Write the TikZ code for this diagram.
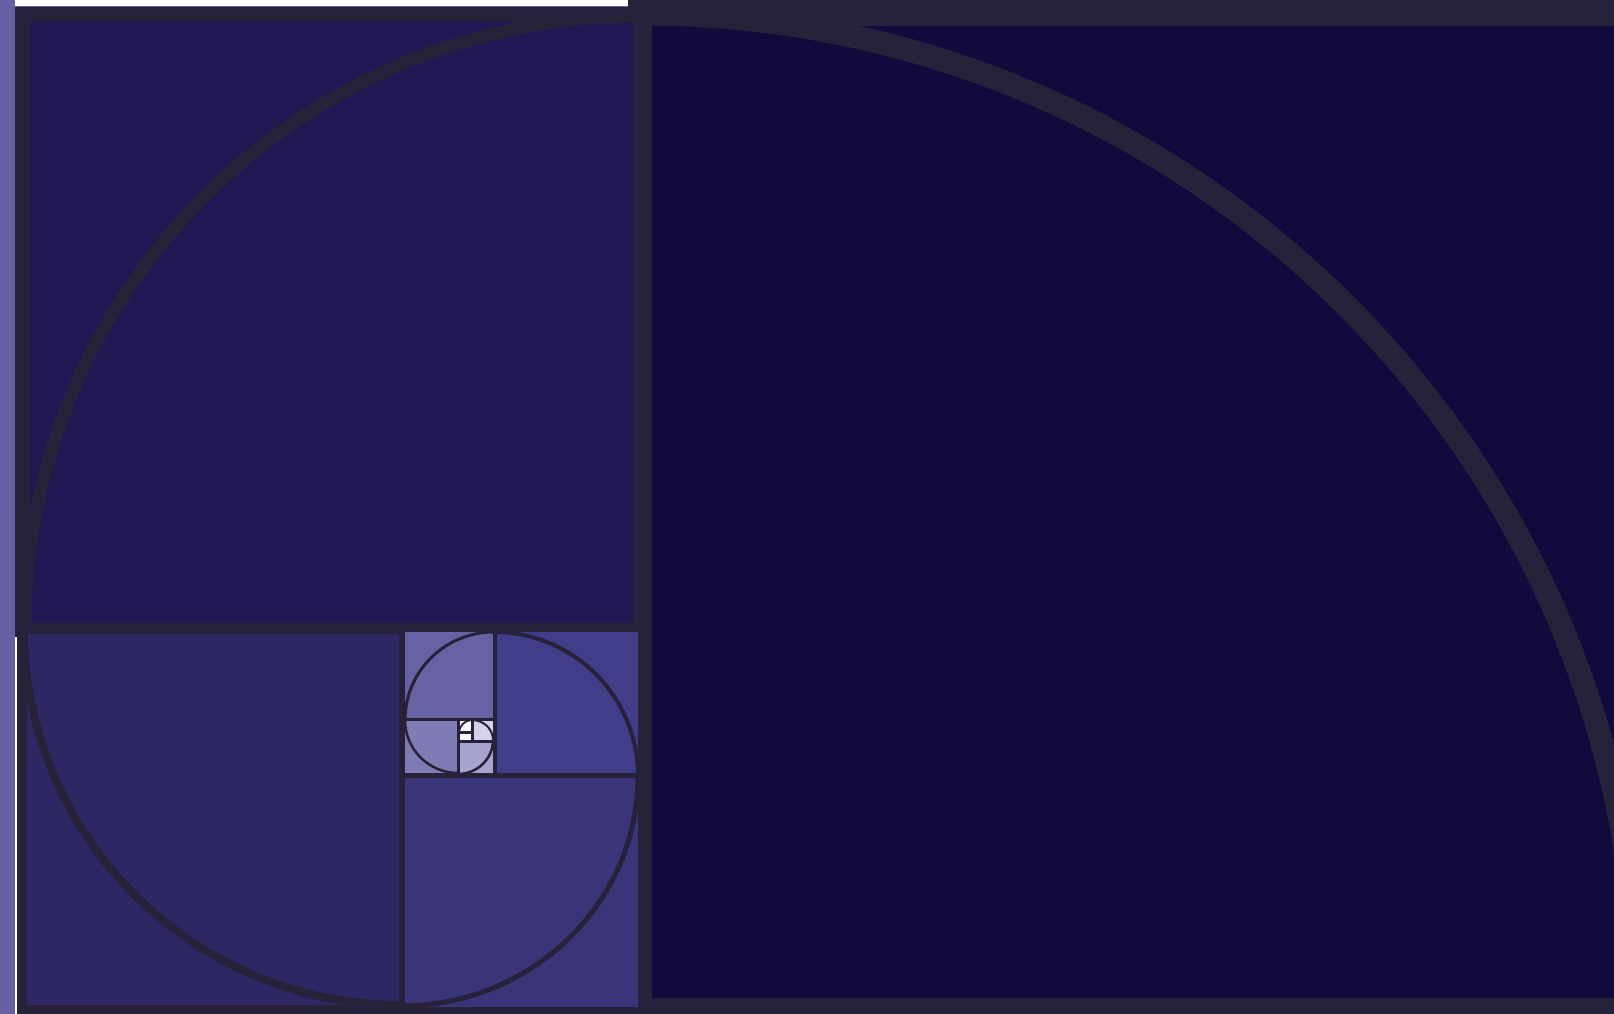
\documentclass[tikz,border=0pt]{standalone}
\begin{document}
\begin{tikzpicture}[x=1pt,y=-1pt,
  arcline/.style={draw=bord,line cap=butt}]
\definecolor{bord}{HTML}{272139}
\definecolor{strip}{HTML}{6661A3}
\definecolor{cbig}{HTML}{110A3C}
\definecolor{ctl}{HTML}{1F1852}
\definecolor{cbl}{HTML}{2D2864}
\definecolor{cfour}{HTML}{3A3579}
\definecolor{cfive}{HTML}{413D88}
\definecolor{csix}{HTML}{6762A4}
\definecolor{cseven}{HTML}{7F7BB5}
\definecolor{ceight}{HTML}{A6A3CF}
\definecolor{cnine}{HTML}{D4D2EA}
\definecolor{cten}{HTML}{F8F8FE}
\useasboundingbox (0,0) rectangle (1614,1014);
\clip (0,0) rectangle (1614,1014);
% background border colour
\fill[bord] (0,0) rectangle (1614,1014);
% left strip and top white strip
\fill[strip] (0,0) rectangle (15,1014);
\fill[white] (15,0) rectangle (628,6);
\fill[strip] (15,6) rectangle (628,7.2);
\fill[white] (15,637) rectangle (16.6,1014);
% squares
\fill[cbig] (652,26) rectangle (1620,998);
\fill[ctl] (30,21) rectangle (633,623);
\fill[cbl] (27,634) rectangle (399,1005);
\fill[cfour] (405,778) rectangle (638,1007);
\fill[cfive] (497,632) rectangle (638,773);
\fill[csix] (405,632) rectangle (493,718);
\fill[cseven] (405,721) rectangle (457,773);
\fill[ceight] (460,743) rectangle (493,773);
\fill[cnine] (474,721) rectangle (493,740);
\fill[cten] (460,721) rectangle (471,731);
\fill[cten] (460,734) rectangle (471,740);
% spiral arcs
\draw[arcline,line width=23] (642,14) arc[start angle=270,end angle=360,radius=996];
\draw[arcline,line width=13] (642,16) arc[start angle=270,end angle=180,x radius=617,y radius=612];
\draw[arcline,line width=8] (24,628) arc[start angle=180,end angle=90,radius=377];
\draw[arcline,line width=5] (401,1006) arc[start angle=90,end angle=0,x radius=237,y radius=230];
\draw[arcline,line width=4] (638,776) arc[start angle=0,end angle=-90,radius=144];
\draw[arcline,line width=3] (494,632) arc[start angle=-90,end angle=-180,x radius=89,y radius=88];
\draw[arcline,line width=2.5] (405,720) arc[start angle=180,end angle=90,radius=53];
\draw[arcline,line width=2.5] (458,774) arc[start angle=90,end angle=0,x radius=35,y radius=34];
\draw[arcline,line width=2] (493,740) arc[start angle=0,end angle=-90,x radius=21,y radius=20];
\draw[arcline,line width=1.8] (472,720) arc[start angle=-90,end angle=-180,radius=13];
\end{tikzpicture}
\end{document}
